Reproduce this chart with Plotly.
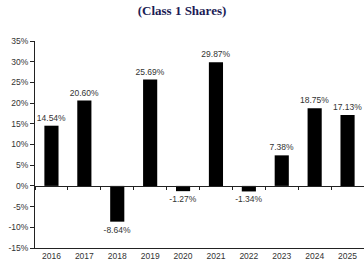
import plotly.graph_objects as go

years = ["2016", "2017", "2018", "2019", "2020", "2021", "2022", "2023", "2024", "2025"]
returns = [14.54, 20.60, -8.64, 25.69, -1.27, 29.87, -1.34, 7.38, 18.75, 17.13]
y_ticks = [-15, -10, -5, 0, 5, 10, 15, 20, 25, 30, 35]
y_tick_labels = [f"{v}%" for v in y_ticks]
bar_labels = [f"{v:.2f}%" for v in returns]

fig = go.Figure()
fig.add_trace(go.Bar(
    x=years, y=returns, marker=dict(color="#000000", line=dict(width=0)),
    text=bar_labels, textposition="outside", cliponaxis=False, constraintext="none",
    textfont=dict(family="Arial, Liberation Sans", size=8.5, color="#333333"),
    xaxis="x", yaxis="y",
))
# invisible trace to host the zero-line axis with boundary ticks
fig.add_trace(go.Bar(x=years, y=[None]*len(years), xaxis="x2", yaxis="y",
                     showlegend=False, hoverinfo="skip"))

ymin, ymax = -15, 35
fig.update_layout(
    width=364, height=270,
    margin=dict(l=35, r=0, t=41, b=22),
    paper_bgcolor="white", plot_bgcolor="white",
    showlegend=False,
    bargap=0.57,
    title=dict(text="<b>(Class 1 Shares)</b>", x=0.5, xanchor="center", y=0.98, yanchor="top",
               font=dict(family="Liberation Serif, Times New Roman", size=13, color="#1c1c55")),
    xaxis=dict(type="category", showline=True, linecolor="#222222", linewidth=1,
               ticks="", showgrid=False, zeroline=False,
               tickfont=dict(family="Arial, Liberation Sans", size=8.5, color="#333333")),
    xaxis2=dict(type="category", overlaying="x", anchor="free",
                position=(0 - ymin) / (ymax - ymin),
                showline=True, linecolor="#222222", linewidth=1,
                ticks="outside", ticklen=3, tickcolor="#222222", tickson="boundaries",
                showticklabels=False, showgrid=False, zeroline=False),
    yaxis=dict(range=[ymin, ymax], tickvals=y_ticks, ticktext=y_tick_labels,
               showline=True, linecolor="#222222", linewidth=1,
               ticks="outside", ticklen=4, tickcolor="#222222",
               showgrid=False, zeroline=False,
               tickfont=dict(family="Arial, Liberation Sans", size=8.5, color="#333333")),
)
fig.write_html("out.html")
